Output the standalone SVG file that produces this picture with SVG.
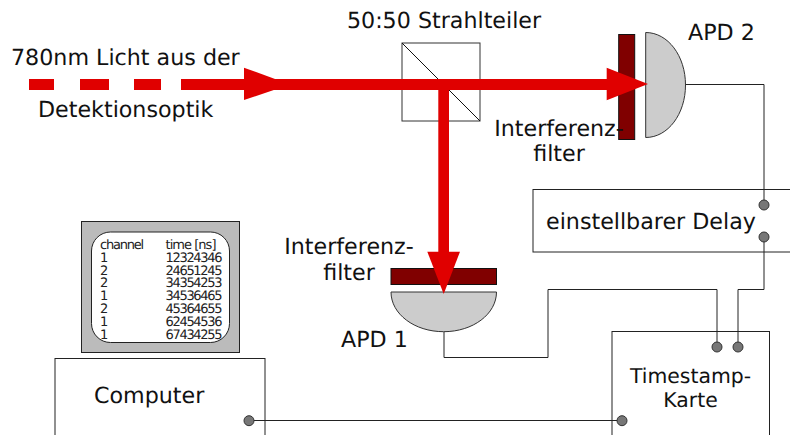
<svg xmlns="http://www.w3.org/2000/svg" width="790" height="435" viewBox="0 0 790 435">
<style>
text{font-family:"DejaVu Sans",sans-serif;fill:#111;text-rendering:geometricPrecision}
.l{font-size:22.2px}
.s{font-size:20.4px}
.c{text-anchor:middle}
.t{font-size:13px;fill:#222}
.box{fill:#fff;stroke:#222;stroke-width:1}
.wire{fill:none;stroke:#222;stroke-width:1}
.dot{fill:#777;stroke:#333;stroke-width:1}
.filter{fill:#800000;stroke:#111;stroke-width:1}
.apd{fill:#ccc;stroke:#333;stroke-width:1}
.beam{fill:#e00000}
</style>
<rect width="790" height="435" fill="#fff"/>
<g id="computer">
<rect class="box" x="55" y="358.500" width="210" height="90"/>
<text class="l" x="94" y="403">Computer</text>
</g>
<g id="monitor">
<rect x="81.500" y="221.500" width="158" height="131" fill="#bbb" stroke="#222"/>
<rect x="91.500" y="232" width="138" height="110.500" rx="19" fill="#fff" stroke="#222"/>
<text class="t" x="100" y="248.500" textLength="44">channel</text><text class="t" x="165.500" y="248.500" textLength="51">time [ns]</text>
<text class="t" x="100" y="261.700" textLength="8">1</text><text class="t" x="165.500" y="261.700" textLength="57">12324346</text>
<text class="t" x="100" y="274.500" textLength="8">2</text><text class="t" x="165.500" y="274.500" textLength="57">24651245</text>
<text class="t" x="100" y="287.300" textLength="8">2</text><text class="t" x="165.500" y="287.300" textLength="57">34354253</text>
<text class="t" x="100" y="300" textLength="8">1</text><text class="t" x="165.500" y="300" textLength="57">34536465</text>
<text class="t" x="100" y="312.800" textLength="8">2</text><text class="t" x="165.500" y="312.800" textLength="57">45364655</text>
<text class="t" x="100" y="325.600" textLength="8">1</text><text class="t" x="165.500" y="325.600" textLength="57">62454536</text>
<text class="t" x="100" y="339" textLength="8">1</text><text class="t" x="165.500" y="339" textLength="57">67434255</text>
</g>
<g id="delay">
<rect class="box" x="533" y="189.500" width="280" height="62.500"/>
<text class="l" x="546" y="229">einstellbarer Delay</text>
</g>
<g id="timestamp">
<rect class="box" x="612" y="331.500" width="157.500" height="120"/>
<text class="s c" x="690.500" y="383">Timestamp-</text>
<text class="s c" x="690.500" y="407">Karte</text>
</g>
<g id="connectors">
<path class="wire" d="M686 84.500H764V205"/>
<path class="wire" d="M764 237V289.500H738V347"/>
<path class="wire" d="M444 332V357.500H548V289.500H717V347"/>
<path class="wire" d="M249 420.500H622"/>
</g>
<g id="ports">
<circle class="dot" cx="764" cy="205" r="5"/>
<circle class="dot" cx="764" cy="237" r="5"/>
<circle class="dot" cx="717" cy="347" r="5"/>
<circle class="dot" cx="738" cy="347" r="5"/>
<circle class="dot" cx="622" cy="420.700" r="5"/>
<circle class="dot" cx="249" cy="420.700" r="5"/>
</g>
<g id="splitter">
<rect x="402" y="43" width="78" height="78" fill="#fff" stroke="#333"/>
<path d="M402 43L480 121" stroke="#111" fill="none"/>
<text class="l c" x="444" y="28">50:50 Strahlteiler</text>
</g>
<g id="filter2">
<rect class="filter" x="618.700" y="34.500" width="16" height="105"/>
</g>
<g id="apd2">
<path class="apd" d="M645.700 32.500C668 32.500 685.500 56 685.500 85S668 137.500 645.700 137.500Z"/>
<text class="l" x="688" y="40">APD 2</text>
</g>
<g id="filter1">
<rect class="filter" x="391" y="268.500" width="105.500" height="16"/>
</g>
<g id="apd1">
<path class="apd" d="M391 292H496.500C496.500 314 473 331.700 443.700 331.700S391 314 391 292Z"/>
<text class="l" x="341" y="347">APD 1</text>
</g>
<g id="beams">
<rect class="beam" x="29" y="79" width="25" height="11"/>
<rect class="beam" x="80" y="79" width="29" height="11"/>
<rect class="beam" x="134" y="79" width="27" height="11"/>
<rect class="beam" x="181" y="79" width="430" height="11"/>
<path class="beam" d="M244 67.700L290 84.500L244 100Z"/>
<path class="beam" d="M606.700 67.700L648 84L606.700 100.300Z"/>
<rect class="beam" x="438.300" y="84" width="10.700" height="170"/>
<path class="beam" d="M427.300 251.700H460L443.700 294Z"/>
</g>
<g id="labels">
<text class="l" x="11" y="65">780nm Licht aus der</text>
<text class="l" x="38" y="117">Detektionsoptik</text>
<text class="l c" x="559" y="136">Interferenz-</text>
<text class="l c" x="559" y="161">filter</text>
<text class="l c" x="349" y="254">Interferenz-</text>
<text class="l c" x="349" y="280">filter</text>
</g>
</svg>
